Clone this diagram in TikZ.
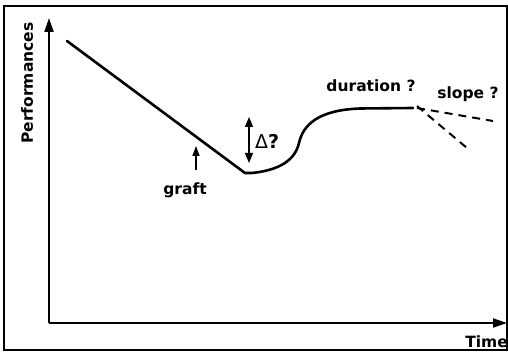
\documentclass[tikz,border=0pt]{standalone}
\usepackage{fontspec}
\setmainfont{DejaVu Sans}
\usepackage{tikz}
\usetikzlibrary{arrows.meta, positioning}

\begin{document}
\begin{tikzpicture}[x=1pt, y=-1pt,
        lbl/.style={font=\fontsize{15.5}{18}\selectfont\bfseries, inner sep=0pt},
        axis/.style={line width=2pt, -{Triangle[length=14pt, width=9pt]}},
        perf/.style={line width=2.6pt, line cap=round, line join=round},
        guess/.style={line width=2pt, dash pattern=on 8pt off 6pt},
        ptr/.style={line width=1.5pt, -{Triangle[length=10pt, width=7pt]}}
    ]
        \useasboundingbox (0,0) rectangle (508,352);
        \draw[line width=1.6pt] (4,6) rectangle (507,350);

        % axes
        \coordinate (O) at (49,323);
        \coordinate (ytip) at (49,18);
        \coordinate (xtip) at (507,323);
        \draw[axis] (O) -- (ytip);
        \draw[axis] (O) -- (xtip);
        \node[lbl, rotate=90] (ylab) at (27,83) {Performances};
        \node[lbl, anchor=base east] (xlab) at (508,347) {Time};

        % performance curve
        \coordinate (start) at (67,41);
        \coordinate (low) at (245,173);
        \coordinate (top) at (413,108);
        \draw[perf] (start) -- (low) -- (252,173)
            .. controls (280,170) and (295,160) .. (299,143)
            .. controls (303,125) and (318,110) .. (360,108.5) -- (top);

        % possible futures
        \coordinate (flat) at (493,121);
        \coordinate (drop) at (467,148);
        \draw[guess] ([xshift=4pt]top) -- (flat);
        \draw[guess] ([xshift=4pt, yshift=2pt]top) -- (drop);

        % labels
        \node[lbl, anchor=base] (dur) at (371,92) {duration ?};
        \node[lbl, anchor=base] (slope) at (468,99) {slope ?};

        \coordinate (dtop) at (249,117);
        \coordinate (dbot) at (249,163);
        \draw[line width=1.5pt, {Triangle[length=10pt, width=8pt]}-{Triangle[length=10pt, width=8pt]}] (dtop) -- (dbot);
        \node[lbl, anchor=base west, font=\fontsize{19}{22}\selectfont] (delta) at (255,149) {{\mdseries Δ}\textbf{?}};

        \node[lbl] (graft) at (185,190) {graft};
        \coordinate (gtail) at (196,170);
        \coordinate (gtip) at (196,146);
        \draw[ptr] (gtail) -- (gtip);
    \end{tikzpicture}
\end{document}
